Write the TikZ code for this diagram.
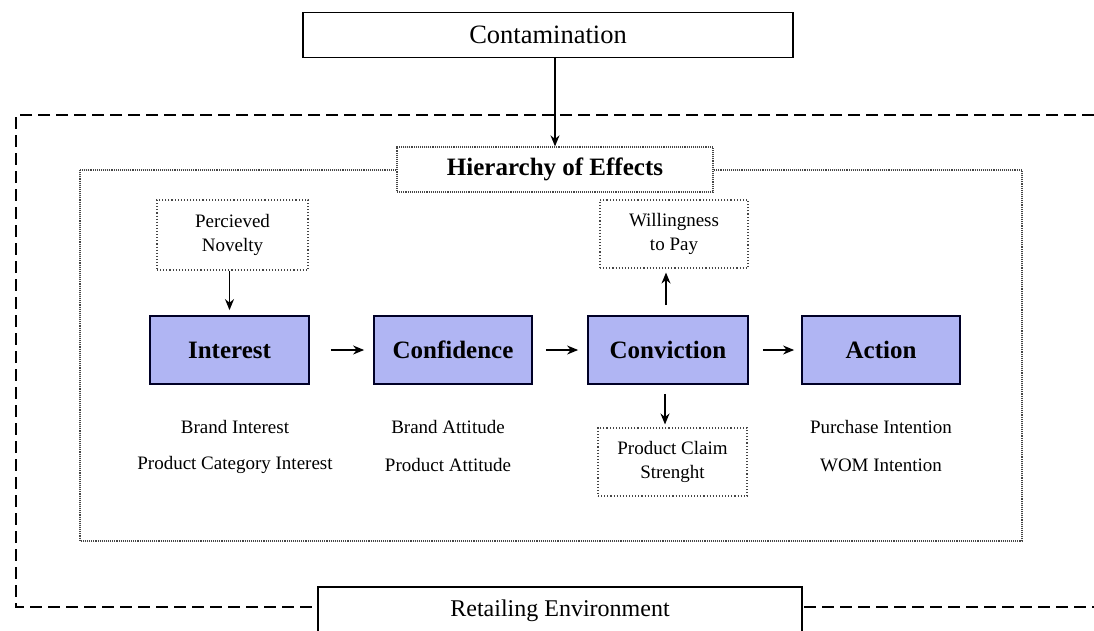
\documentclass[tikz,border=0pt]{standalone}
\usepackage{fontspec}
\setmainfont{Liberation Serif}
\usetikzlibrary{arrows.meta}
\definecolor{stagefill}{RGB}{176,181,243}
\definecolor{dotgray}{RGB}{70,70,70}
\begin{document}
\begin{tikzpicture}[x=1pt,y=-1pt,
  every node/.style={inner sep=0pt, align=center},
  txt/.style={font=\fontsize{19}{23}\selectfont},
  solidbox/.style={draw=black, line width=1.8pt, fill=white, font=\fontsize{24}{28}\selectfont},
  stagebox/.style={draw=black!85!blue, line width=1.8pt, fill=stagefill, minimum height=68pt, font=\fontsize{25}{29}\bfseries\selectfont},
  dotbox/.style={draw=dotgray, line width=1.1pt, dotted, fill=white, font=\fontsize{19}{24}\selectfont},
  arr/.style={-{Stealth[length=11pt,width=9pt]}, line width=1.4pt, black}
]
\useasboundingbox (0,0) rectangle (1094,630);
% outer dashed environment
\draw[line width=1.8pt, dash pattern=on 12pt off 6pt] (1094,115) -- (16,115) -- (16,607) -- (1094,607);
% inner dotted frame
\draw[dotgray, line width=1.1pt, densely dotted] (80,170) rectangle (1022,541);

\node[solidbox, minimum width=490pt, minimum height=45pt, font=\fontsize{26.5}{30}\selectfont] (cont) at (548,35) {Contamination};
\node[solidbox, minimum width=484pt, minimum height=48pt] (retail) at (560,611) {Retailing Environment};
\node[dotbox, densely dotted, line width=1.3pt, minimum width=316pt, minimum height=45pt, font=\fontsize{25}{29}\bfseries\selectfont] (hier) at (555,169.5) {Hierarchy of Effects};

\node[stagebox, minimum width=159pt] (interest) at (229.5,350) {Interest};
\node[stagebox, minimum width=158pt] (confidence) at (453,350) {Confidence};
\node[stagebox, minimum width=160pt] (conviction) at (668,350) {Conviction};
\node[stagebox, minimum width=158pt] (action) at (881,350) {Action};

\node[dotbox, minimum width=151pt, minimum height=70pt] (novelty) at (232.5,235) {Percieved\\Novelty};
\node[dotbox, minimum width=148pt, minimum height=68pt] (willing) at (674,234) {Willingness\\to Pay};
\node[dotbox, minimum width=149pt, minimum height=68pt] (claim) at (672.5,462) {Product Claim\\Strenght};

\node[txt] (bi) at (235,427) {Brand Interest};
\node[txt] (pci) at (235,465) {Product Category Interest};
\node[txt] (ba) at (448,427) {Brand Attitude};
\node[txt] (pa) at (448,465) {Product Attitude};
\node[txt] (pi) at (881,427) {Purchase Intention};
\node[txt] (wi) at (881,465) {WOM Intention};

\draw[arr] (cont.south -| hier.north) -- (hier.north);
\draw[arr, shorten >=5pt] (novelty.south -| interest.north) -- (interest.north);
\draw[arr, shorten <=21pt, shorten >=9pt] (interest) -- (confidence);
\draw[arr, shorten <=13pt, shorten >=9pt] (confidence) -- (conviction);
\draw[arr, shorten <=14pt, shorten >=7pt] (conviction) -- (action);
\draw[arr, shorten <=10pt, shorten >=4pt] (conviction.north -| 666,0) -- (willing.south -| 666,0);
\draw[arr, shorten <=9pt, shorten >=3pt] (conviction.south -| 665,0) -- (claim.north -| 665,0);
\end{tikzpicture}
\end{document}
